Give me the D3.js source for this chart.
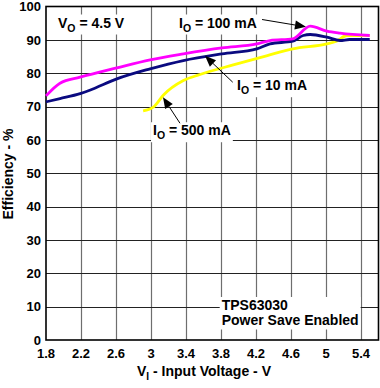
<!DOCTYPE html>
<html><head><meta charset="utf-8">
<script src="https://cdn.jsdelivr.net/npm/d3@7"></script>
<style>
html,body{margin:0;padding:0;background:#fff;}
svg text{font-family:"Liberation Sans",Arial,sans-serif;font-weight:bold;fill:#000;}
</style></head>
<body><svg id="c" width="380" height="388"></svg>
<script>
// ---- data ----
const xTicks = [1.8, 2.2, 2.6, 3, 3.4, 3.8, 4.2, 4.6, 5, 5.4];
const yTicks = [0, 10, 20, 30, 40, 50, 60, 70, 80, 90, 100];
const seriesNames = ["IO = 500 mA", "IO = 10 mA", "IO = 100 mA"];
const vin10 =  [1.8, 1.96, 2.19, 2.30, 2.61, 2.99, 3.37, 3.81, 4.21, 4.36, 4.62, 4.74, 4.82, 5.01, 5.16, 5.27, 5.5];
const eff10 =  [71.4, 72.4, 73.9, 74.9, 78.3, 81.3, 83.8, 85.8, 87.3, 88.8, 89.6, 91.3, 91.6, 90.8, 89.8, 90.1, 90.1];
const vin100 = [1.8, 1.96, 2.19, 2.61, 2.99, 3.37, 3.81, 4.21, 4.36, 4.62, 4.82, 5.01, 5.16, 5.5];
const eff100 = [73.2, 77.0, 78.8, 81.6, 84.0, 85.8, 87.6, 88.8, 89.8, 90.3, 94.1, 92.6, 92.0, 91.3];
const vin500 = [2.91, 3.03, 3.14, 3.37, 3.56, 3.94, 4.33, 4.62, 5.01, 5.12, 5.24, 5.5];
const eff500 = [68.7, 69.9, 73.4, 77.8, 79.6, 82.5, 85.3, 87.3, 88.8, 89.6, 91.3, 91.3];

const W = 380, H = 388;
const x = d3.scaleLinear().domain([1.8, 5.6]).range([46, 378.5]);
const y = d3.scaleLinear().domain([0, 100]).range([340, 6.5]);
const svg = d3.select("#c");

// grid
svg.append("g").selectAll("line").data(xTicks.slice(1)).join("line")
  .attr("x1", d => Math.round(x(d)) + 0.5).attr("x2", d => Math.round(x(d)) + 0.5)
  .attr("y1", y(100)).attr("y2", y(0))
  .attr("stroke", "#6e6e6e").attr("stroke-width", 1.2);
svg.append("g").selectAll("line").data(yTicks.slice(1, -1)).join("line")
  .attr("y1", d => Math.round(y(d)) + 0.5).attr("y2", d => Math.round(y(d)) + 0.5)
  .attr("x1", x(1.8)).attr("x2", x(5.6))
  .attr("stroke", "#222").attr("stroke-width", 1.2);

// frame
svg.append("rect").attr("x", x(1.8)).attr("y", y(100))
  .attr("width", x(5.6) - x(1.8)).attr("height", y(0) - y(100))
  .attr("fill", "none").attr("stroke", "#000").attr("stroke-width", 1.6);

// tick labels
svg.append("g").selectAll("text").data(yTicks).join("text")
  .attr("x", 41).attr("y", d => y(d)).attr("dy", "0.36em")
  .attr("text-anchor", "end").attr("font-size", 13).text(d => d);
svg.append("g").selectAll("text").data(xTicks).join("text")
  .attr("x", d => x(d)).attr("y", 358)
  .attr("text-anchor", "middle").attr("font-size", 13).text(d => d);

// axis titles
const xt = svg.append("text").attr("x", 204).attr("y", 376).attr("text-anchor", "middle").attr("font-size", 14);
xt.append("tspan").text("V");
xt.append("tspan").attr("font-size", 10).attr("dy", 4).text("I");
xt.append("tspan").attr("dy", -4).text(" - Input Voltage - V");
svg.append("text").attr("transform", "translate(13,174) rotate(-90)")
  .attr("text-anchor", "middle").attr("font-size", 14).text("Efficiency - %");

// curves
const line = d3.line().x(d => x(d[0])).y(d => y(d[1])).curve(d3.curveMonotoneX);
const zip = (a, b) => a.map((v, i) => [v, b[i]]);
const curves = [
  {v: vin500, e: eff500, c: "#ffff00"},
  {v: vin10, e: eff10, c: "#0a0a80"},
  {v: vin100, e: eff100, c: "#ff00ff"}
];
svg.append("g").selectAll("path").data(curves).join("path")
  .attr("d", d => line(zip(d.v, d.e)))
  .attr("fill", "none").attr("stroke", d => d.c).attr("stroke-width", 2.8)
  .attr("stroke-linejoin", "round");

// annotations
function label(vx, ey, main, sub, rest, lines) {
  const g = svg.append("g");
  const bg = g.append("rect").attr("fill", "#fff");
  const t = g.append("text").attr("x", x(vx)).attr("y", y(ey)).attr("font-size", 14);
  if (lines) {
    lines.forEach((s, i) => t.append("tspan").attr("x", x(vx)).attr("dy", i ? 15.5 : 0).text(s));
  } else {
    t.append("tspan").text(main);
    t.append("tspan").attr("font-size", 10.5).attr("dy", 4).text(sub);
    t.append("tspan").attr("dy", -4).text(rest);
  }
  const b = t.node().getBBox();
  bg.attr("x", b.x - 2).attr("y", b.y).attr("width", b.width + 4).attr("height", b.height + 1);
}
function arrow(x0, y0, x1, y1) {
  const p0 = [x(x0), y(y0)], p1 = [x(x1), y(y1)];
  const a = Math.atan2(p1[1] - p0[1], p1[0] - p0[0]);
  const L = 11, Wd = 4.5;
  const bx = p1[0] - L * Math.cos(a), by = p1[1] - L * Math.sin(a);
  svg.append("line").attr("x1", p0[0]).attr("y1", p0[1]).attr("x2", bx).attr("y2", by)
    .attr("stroke", "#000").attr("stroke-width", 1);
  svg.append("path").attr("d", `M${p1[0]},${p1[1]} L${bx + Wd * Math.sin(a)},${by - Wd * Math.cos(a)} L${bx - Wd * Math.sin(a)},${by + Wd * Math.cos(a)} Z`)
    .attr("fill", "#000");
}
label(1.937, 93.7, "V", "O", " = 4.5 V");
label(3.32, 93.7, "I", "O", " = 100 mA");
label(3.983, 74.9, "I", "O", " = 10 mA");
label(3.023, 61.4, "I", "O", " = 500 mA");
label(3.808, 9.0, null, null, null, ["TPS63030", "Power Save Enabled"]);
arrow(4.269, 96.1, 4.771, 93.9);
arrow(3.934, 77.3, 3.617, 85.2);
arrow(3.331, 65.0, 3.137, 72.8);
</script></body></html>
